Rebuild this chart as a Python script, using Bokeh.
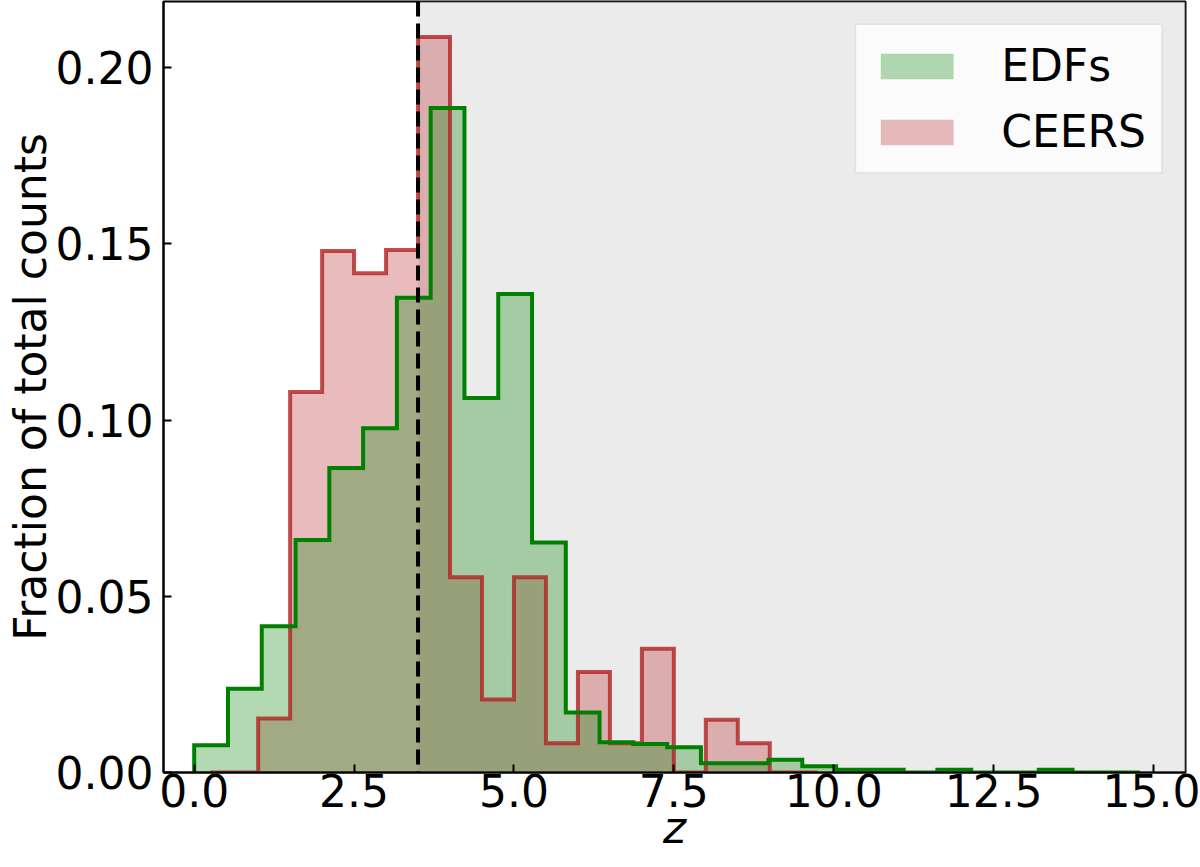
import numpy as np
from bokeh.plotting import figure
from bokeh.models import (Range1d, BoxAnnotation, Span, FixedTicker, Legend,
                          LegendItem, NumeralTickFormatter)
from bokeh.embed import file_html
from bokeh.resources import INLINE

# ---------------- data ----------------
# EDFs: 28 equal-width bins spanning this redshift range
EDFS_RANGE = (0.0, 14.79)
EDFS_FRAC = [0.0077, 0.0238, 0.0415, 0.0660, 0.0864, 0.0977, 0.1347,
             0.1886, 0.1063, 0.1358, 0.0653, 0.0170, 0.0086, 0.0081,
             0.0072, 0.0026, 0.0026, 0.0036, 0.0018, 0.0008, 0.0008,
             0.0000, 0.0008, 0.0000, 0.0000, 0.0008, 0.0000, 0.0000]

# CEERS: bin edges and fractions
CEERS_EDGES = [0.25, 1.0, 1.5, 2.0, 2.5, 3.0, 3.5, 4.0, 4.5, 5.0, 5.5,
               6.0, 6.5, 7.0, 7.5, 8.0, 8.5, 9.0, 9.75]
CEERS_FRAC = [0.0, 0.0153, 0.1080, 0.1480, 0.1417, 0.1483, 0.2087,
              0.0554, 0.0207, 0.0554, 0.0083, 0.0285, 0.0083, 0.0351,
              0.0000, 0.0150, 0.0083, 0.0]

Z_CUT = 3.5
X_TICKS = [0.0, 2.5, 5.0, 7.5, 10.0, 12.5, 15.0]
Y_TICKS = [0.00, 0.05, 0.10, 0.15, 0.20]
SERIES_LABELS = ["EDFs", "CEERS"]
X_LABEL = "z"
Y_LABEL = "Fraction of total counts"

X_MIN, X_MAX = -0.48, 15.5
Y_MIN, Y_MAX = 0.0, 0.2188


def step_outline(edges, vals):
    edges = np.asarray(edges, dtype=float)
    vals = np.asarray(vals, dtype=float)
    xs = np.repeat(edges, 2)
    ys = np.concatenate([[0.0], np.repeat(vals, 2), [0.0]])
    return xs, ys


edfs_edges = np.linspace(EDFS_RANGE[0], EDFS_RANGE[1], len(EDFS_FRAC) + 1)
ex, ey = step_outline(edfs_edges, EDFS_FRAC)
cx, cy = step_outline(CEERS_EDGES, CEERS_FRAC)

FONT = "DejaVu Sans"
FS = "44px"

p = figure(width=1200, height=867, output_backend="svg", toolbar_location=None,
           x_range=Range1d(X_MIN, X_MAX), y_range=Range1d(Y_MIN, Y_MAX),
           min_border_left=163, min_border_right=15, min_border_top=1,
           min_border_bottom=95)
p.xgrid.visible = False
p.ygrid.visible = False
p.background_fill_color = "white"
p.border_fill_color = "white"
p.outline_line_color = "black"
p.outline_line_width = 2
p.outline_line_alpha = 1.0

# shaded region z > 3.5
p.add_layout(BoxAnnotation(left=Z_CUT, fill_color="lightgray", fill_alpha=0.45,
                           line_alpha=0, level="underlay"))

r_c_fill = p.patch(cx, cy, fill_color="firebrick", fill_alpha=0.3, line_alpha=0)
r_e_fill = p.patch(ex, ey, fill_color="green", fill_alpha=0.3, line_alpha=0)
p.line(cx, cy, line_color="firebrick", line_alpha=0.8, line_width=4, line_join="miter")
p.line(ex, ey, line_color="green", line_width=4, line_join="miter")

p.add_layout(Span(location=Z_CUT, dimension="height", line_color="black",
                  line_width=4, line_dash="15 7"))

for ax in (p.xaxis, p.yaxis):
    ax.major_tick_in = 8
    ax.major_tick_out = 0
    ax.minor_tick_in = 0
    ax.minor_tick_out = 0
    ax.major_tick_line_width = 2
    ax.axis_line_width = 2
    ax.major_label_text_font = FONT
    ax.major_label_text_font_size = FS
    ax.major_label_text_color = "black"
    ax.axis_label_text_font = FONT
    ax.axis_label_text_font_size = FS
    ax.axis_label_text_color = "black"

p.xaxis.ticker = FixedTicker(ticks=X_TICKS)
p.xaxis.formatter = NumeralTickFormatter(format="0.0")
p.yaxis.ticker = FixedTicker(ticks=Y_TICKS)
p.yaxis.formatter = NumeralTickFormatter(format="0.00")

p.xaxis.axis_label = X_LABEL
p.xaxis.axis_label_text_font_style = "italic"
p.xaxis.major_label_standoff = 1
p.xaxis.axis_label_standoff = -8
p.yaxis.axis_label = Y_LABEL
p.yaxis.axis_label_text_font_style = "normal"
p.yaxis.major_label_standoff = 10
p.yaxis.axis_label_standoff = -3

legend = Legend(items=[LegendItem(label=SERIES_LABELS[0], renderers=[r_e_fill]),
                       LegendItem(label=SERIES_LABELS[1], renderers=[r_c_fill])],
                location="top_right", margin=22, padding=15, spacing=15,
                glyph_width=91, glyph_height=32, label_standoff=39, label_height=44,
                label_text_font=FONT, label_text_font_size=FS,
                label_text_color="black",
                background_fill_color="white", background_fill_alpha=0.8,
                border_line_color="#cccccc", border_line_width=2)
p.add_layout(legend)

open("out.html", "w").write(file_html(p, INLINE))
